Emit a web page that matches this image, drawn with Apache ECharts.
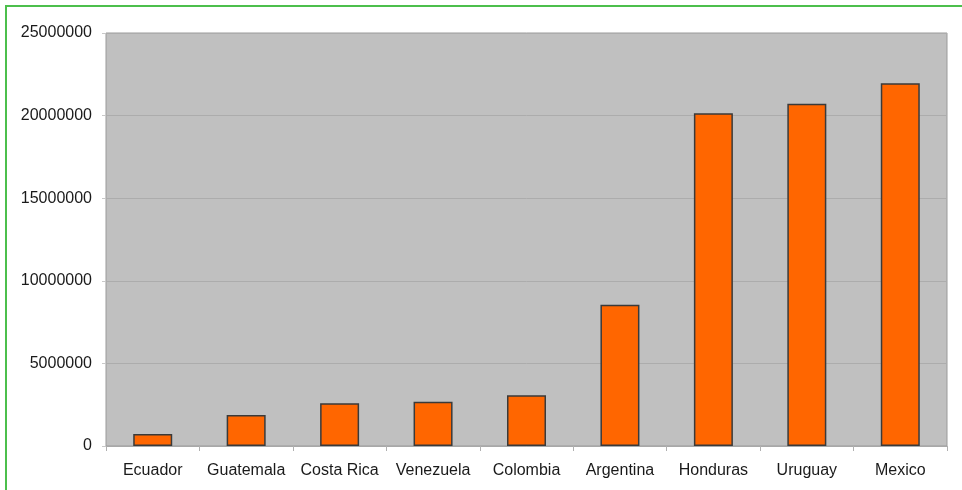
<!doctype html>
<html>
<head>
    <meta charset="utf-8">
    <title>Bar chart</title>
    <script src="https://cdn.jsdelivr.net/npm/echarts@6/dist/echarts.min.js"></script>
    <style>
        html, body { margin: 0; padding: 0; background: #fff; overflow: hidden; }
        #frame { position: absolute; left: 5px; top: 5px; width: 980px; height: 500px;
                 border-left: 2px solid #4cbf4c; border-top: 2px solid #4cbf4c; }
        #chart { position: absolute; left: 0; top: 0; width: 962px; height: 490px; }
    </style>
</head>
<body>
<div id="frame"></div>
<div id="chart"></div>
<script type="text/javascript">
    var countries = ['Ecuador', 'Guatemala', 'Costa Rica', 'Venezuela', 'Colombia', 'Argentina', 'Honduras', 'Uruguay', 'Mexico'];
    var values = [730000, 1880000, 2590000, 2680000, 3070000, 8550000, 20140000, 20710000, 21960000];
    var yTicks = [0, 5000000, 10000000, 15000000, 20000000, 25000000];

    var myChart = echarts.init(document.getElementById('chart'));
    var option = {
        animation: false,
        grid: {
            left: 106, right: 15, top: 33, bottom: 44,
            show: true,
            backgroundColor: '#c0c0c0',
            borderColor: '#9a9a9a',
            borderWidth: 1
        },
        xAxis: {
            type: 'category',
            data: countries,
            axisLine: { lineStyle: { color: '#a8a8a8', width: 1 } },
            axisTick: { show: true, interval: 0, length: 5, lineStyle: { color: '#b0b0b0' } },
            axisLabel: { interval: 0, color: '#1a1a1a', fontFamily: 'Liberation Sans, Arial', fontSize: 16, margin: 17 }
        },
        yAxis: {
            type: 'value',
            min: yTicks[0],
            max: yTicks[yTicks.length - 1],
            interval: 5000000,
            axisLine: { show: false },
            axisTick: { show: true, length: 4, lineStyle: { color: '#c8c8c8' } },
            splitLine: { lineStyle: { color: '#acacac', width: 1 } },
            axisLabel: {
                color: '#1a1a1a', fontFamily: 'Liberation Sans, Arial', fontSize: 16, margin: 14,
                formatter: function (v) { return String(v); }
            }
        },
        series: [{
            type: 'bar',
            data: values,
            barWidth: 39,
            itemStyle: { color: '#ff6600', borderColor: '#3a3a3a', borderWidth: 1.5 }
        }]
    };
    myChart.setOption(option);
</script>
</body>
</html>
